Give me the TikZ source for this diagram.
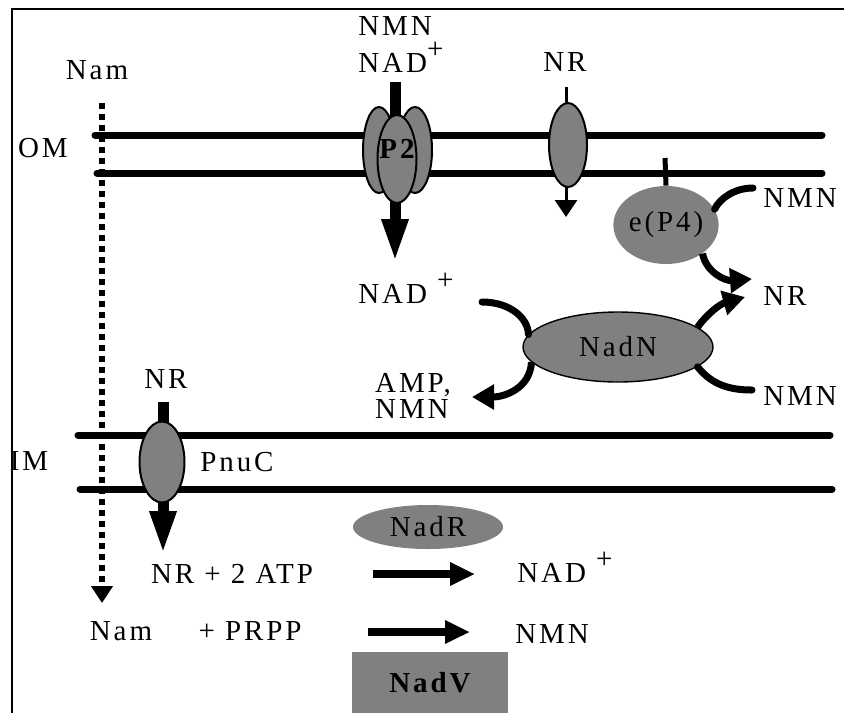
\documentclass[tikz,border=0pt]{standalone}
\usepackage{fontspec}
\setmainfont{Liberation Serif}[LetterSpace=10]
\usepackage{tikz}
\usetikzlibrary{arrows.meta,shapes.geometric}
\definecolor{protgray}{gray}{0.5}
\newcommand{\lblfont}{\fontsize{14.5}{13}\selectfont}
\newcommand{\plusup}{\raisebox{0.45em}{+}}

\begin{document}
\begin{tikzpicture}[x=0.5pt, y=-0.5pt,
    every node/.style={font=\lblfont, inner sep=0pt},
    membrane/.style={line width=3.5pt, line cap=round},
    porin/.style={ellipse, draw, line width=1pt, fill=protgray},
    enzyme/.style={ellipse, fill=protgray},
    transport/.style={line width=5.5pt, -{Triangle[length=22pt, width=12pt]}},
    flow/.style={line width=3.5pt, line cap=round},
    flux/.style={line width=3.5pt, -{Triangle[length=11pt, width=12pt]}},
    reaction/.style={line width=4pt, -{Triangle[length=12.5pt, width=11pt]}},
    diffuse/.style={line width=3pt, dash pattern=on 3pt off 2.5pt, -{Triangle[length=8.5pt, width=10.5pt]}}
]
\useasboundingbox (0,0) rectangle (844,713);

% Frame
\draw[line width=1pt] (12,713) -- (12,9) -- (844,9);

% Outer and inner membranes
\draw[membrane] (95,135) -- (822,135);
\draw[membrane] (97,173) -- (822,173);
\draw[membrane] (78,435) -- (830,435);
\draw[membrane] (80,489) -- (832,489);
\node (om) at (43,148) {OM};
\node (im) at (29,461) {IM};

% Nam diffusion
\node (namout) at (97,70) {Nam};
\node (namin) at (121,631) {Nam};
\coordinate (namstart) at (102,103);
\coordinate (namend) at (102,603);
\draw[diffuse] (namstart) -- (namend);

% P2 porin
\node (nmnout) at (395,26) {NMN};
\node[anchor=base west] (nadout) at (358,72) {NAD\plusup};
\coordinate (p2in) at (395,82);
\coordinate (p2out) at (395,263);
\draw[transport] (p2in) -- (p2out);
\node[porin, minimum width=16pt, minimum height=43pt] (p2l) at (379,150) {};
\node[porin, minimum width=17pt, minimum height=43pt] (p2r) at (415,150) {};
\node[porin, minimum width=19.5pt, minimum height=44pt] (p2) at (397,159) {};
\node[font=\lblfont\bfseries] (p2lbl) at (397,149) {P2};
\node[anchor=base west] (nadperi) at (358,303) {NAD \plusup};

% NR porin
\node (nrout) at (565,62) {NR};
\coordinate (nrin) at (566,87);
\coordinate (nrend) at (566,217);
\draw[line width=1.5pt, -{Triangle[length=8.5pt, width=11pt]}] (nrin) -- (nrend);
\node[porin, minimum width=19pt, minimum height=42pt] (nrp) at (568,145) {};

% e(P4)
\coordinate (p4stick) at (665,158);
\node[enzyme, minimum width=46pt, minimum height=39pt] (ep4) at (666,225) {e(P4)};
\draw[line width=2.5pt] (p4stick) -- (ep4.north);
\node (nmnp4) at (800,198) {NMN};
\node (nrp4) at (785,296) {NR};
\coordinate (nmnp4in) at (753,188);
\coordinate (nrp4tip) at (752,279);
\draw[flow] (nmnp4in) .. controls (735,188) and (720,198) .. (ep4.18);
\draw[flux] (ep4.322) .. controls (706,272) and (725,281) .. (nrp4tip);

% NadN
\node[enzyme, draw, line width=0.7pt, minimum width=95pt, minimum height=35pt] (nadn) at (618,347) {NadN};
\coordinate (nadnin) at (482,302);
\coordinate (amptip) at (472,397);
\coordinate (nrnadntip) at (745,297);
\coordinate (nmnnadnin) at (752,390);
\draw[flow] (nadnin) .. controls (510,302) and (528,318) .. (nadn.172);
\draw[flux] (nadn.190) .. controls (530,388) and (505,397) .. (amptip);
\draw[flux] (nadn.14) .. controls (707,314) and (720,304) .. (nrnadntip);
\draw[flow] (nadn.346) .. controls (712,385) and (730,390) .. (nmnnadnin);
\node[align=left] (ampnmn) at (413,396) {AMP,\\NMN};
\node (nmnnadn) at (800,396) {NMN};

% PnuC
\node (nrim) at (166,379) {NR};
\coordinate (pnucin) at (163,402);
\coordinate (pnucout) at (163,555);
\draw[transport] (pnucin) -- (pnucout);
\node[porin, minimum width=22.5pt, minimum height=40.5pt] (pnuc) at (162,462) {};
\node (pnuclbl) at (237,462) {PnuC};

% Cytoplasmic reactions
\node[enzyme, minimum width=75pt, minimum height=22pt] (nadr) at (428,527) {NadR};
\node (atp) at (232,574) {NR + 2 ATP};
\coordinate (r1a) at (373,574);
\coordinate (r1b) at (475,574);
\draw[reaction] (r1a) -- (r1b);
\node[anchor=base west] (nadcyt) at (517,582) {NAD \plusup};
\node (prpp) at (250,631) {+ PRPP};
\coordinate (r2a) at (368,632);
\coordinate (r2b) at (470,632);
\draw[reaction] (r2a) -- (r2b);
\node (nmncyt) at (552,634) {NMN};
\node[fill=protgray, minimum width=78pt, minimum height=30.5pt, font=\lblfont\bfseries] (nadv) at (430,682.5) {NadV};

\end{tikzpicture}
\end{document}
